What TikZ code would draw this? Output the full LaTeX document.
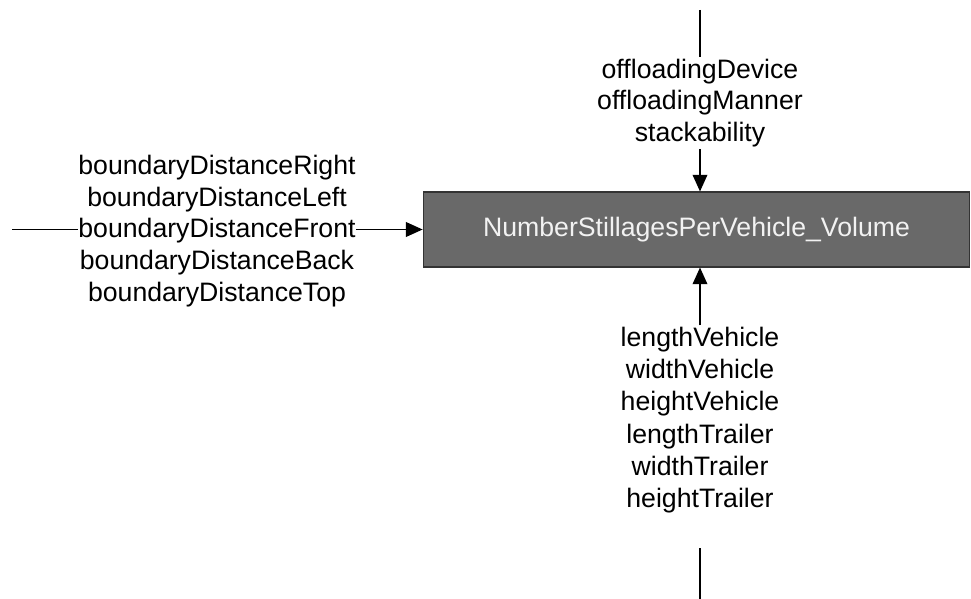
\documentclass[tikz,border=0pt]{standalone}
\usepackage{fontspec}
\setmainfont{Liberation Sans}
\usetikzlibrary{arrows.meta}
\definecolor{boxfill}{HTML}{696969}
\definecolor{boxline}{HTML}{333333}
\definecolor{boxtext}{HTML}{F2F2F2}
\begin{document}
\begin{tikzpicture}[x=0.75pt,y=-0.75pt,
  lbl/.style={align=center,inner sep=1pt,font=\fontsize{20pt}{23.8pt}\selectfont},
  proc/.style={draw=boxline,line width=0.8pt,fill=boxfill,text=boxtext,
    minimum width=410pt,minimum height=56.25pt,inner sep=0pt,
    font=\fontsize{20pt}{23.8pt}\selectfont},
  conn/.style={line width=1.1pt,-{Triangle[length=12.5pt,width=11pt]}},
  plain/.style={line width=1.1pt}]
\useasboundingbox (0,0) rectangle (971,599);
\node[proc] (box) at (696.5,229.5) {NumberStillagesPerVehicle\_Volume};
\node[lbl,inner sep=0pt] (left) at (217,231) {boundaryDistanceRight\\boundaryDistanceLeft\\boundaryDistanceFront\\boundaryDistanceBack\\boundaryDistanceTop};
\node[lbl] (top) at (700,103) {offloadingDevice\\offloadingManner\\stackability};
\node[lbl,font=\fontsize{20pt}{24.2pt}\selectfont] (bot) at (700,420) {lengthVehicle\\widthVehicle\\heightVehicle\\lengthTrailer\\widthTrailer\\heightTrailer};
\coordinate (lstart) at (12,229.5);
\coordinate (tstart) at (700,10);
\coordinate (bstart) at (700,548);
\coordinate (bend) at (700,599);
\draw[plain] (lstart) -- (left.west |- lstart);
\draw[conn] (left.east |- box.west) -- (box.west);
\draw[plain] (tstart) -- (top.north);
\draw[conn] (top.south) -- (top.south |- box.north);
\draw[conn] (bot.north) -- (bot.north |- box.south);
\draw[plain] (bend) -- (bstart);
\end{tikzpicture}
\end{document}
